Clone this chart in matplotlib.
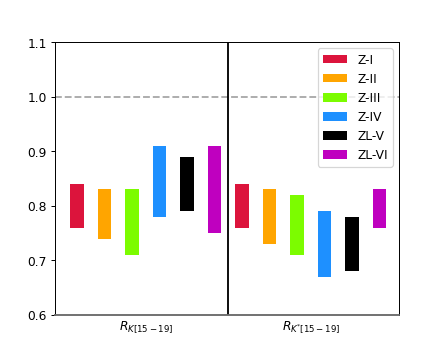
import matplotlib
matplotlib.use("Agg")
import matplotlib.pyplot as plt
import numpy as np

models = ["Z-I", "Z-II", "Z-III", "Z-IV", "ZL-V", "ZL-VI"]
colors = ["crimson", "orange", "lawngreen", "dodgerblue", "black", "m"]
groups = [r"$R_{K[15-19]}$", r"$R_{K^{*}[15-19]}$"]
low_K = [0.76, 0.74, 0.71, 0.78, 0.79, 0.75]
high_K = [0.84, 0.83, 0.83, 0.91, 0.89, 0.91]
low_Ks = [0.76, 0.73, 0.71, 0.67, 0.68, 0.76]
high_Ks = [0.84, 0.83, 0.82, 0.79, 0.78, 0.83]

DPI = 88.6
fig, ax = plt.subplots(figsize=(5, 4), dpi=DPI)
n = len(models)
for g, (lo, hi) in enumerate([(low_K, high_K), (low_Ks, high_Ks)]):
    x = np.arange(n) + g * n
    for i in range(n):
        ax.bar(x[i], hi[i] - lo[i], bottom=lo[i], width=0.5, color=colors[i],
               label=models[i] if g == 0 else None)

ax.axhline(1.0, color="darkgray", linestyle="--", linewidth=1.5)
ax.axvline(n - 0.5, color="black", linewidth=1.5)
ax.set_ylim(0.6, 1.1)
ax.set_xlim(-0.79, 2 * n - 0.30)
ax.set_yticks([0.6, 0.7, 0.8, 0.9, 1.0, 1.1])
ax.set_xticks([(n - 1) / 2, n + (n - 1) / 2])
ax.set_xticklabels(groups)
ax.tick_params(axis="x", length=0)
ax.spines["bottom"].set_color("dimgray")
ax.spines["bottom"].set_linewidth(1.5)
ax.legend(loc="upper right")
fig.savefig("out.png", dpi=DPI)
